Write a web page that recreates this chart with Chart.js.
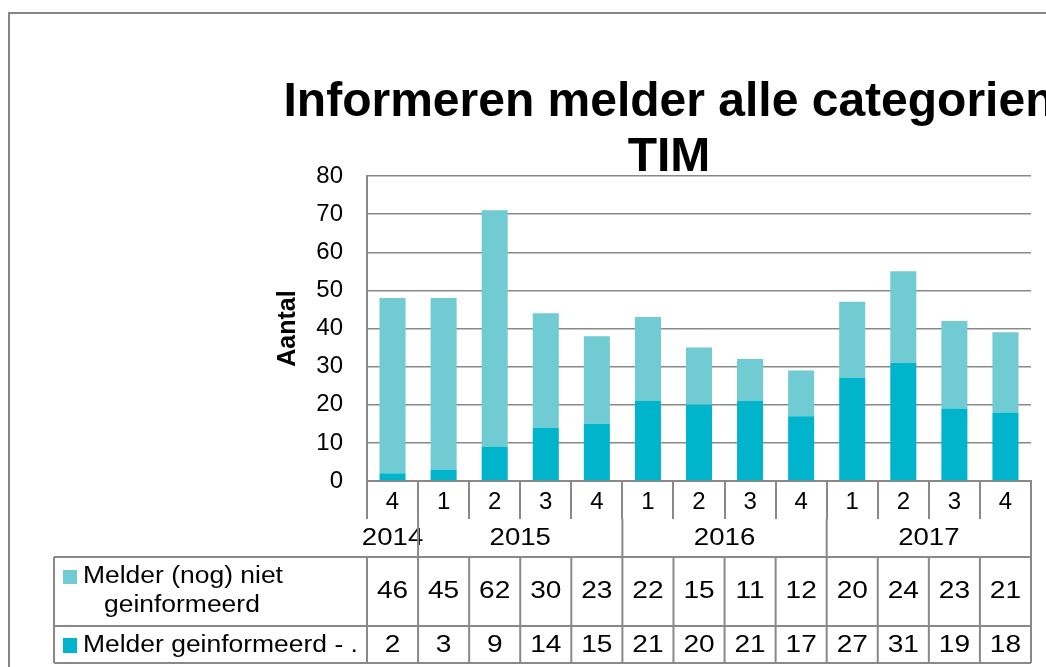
<!DOCTYPE html>
<html>
<head>
<meta charset="utf-8">
<script src="https://cdn.jsdelivr.net/npm/chart.js@4.4.1/dist/chart.umd.min.js"></script>
<style>
  html, body { margin: 0; padding: 0; background: #fff; }
  #chart { display: block; }
</style>
</head>
<body>
<canvas id="chart" width="1046" height="667"></canvas>
<script>
// data
const quarters = ['4', '1', '2', '3', '4', '1', '2', '3', '4', '1', '2', '3', '4'];
const years = ['2014', '2015', '2016', '2017'];
const quartersPerYear = [1, 4, 4, 4];
const nietGeinformeerd = [46, 45, 62, 30, 23, 22, 15, 11, 12, 20, 24, 23, 21];
const geinformeerd = [2, 3, 9, 14, 15, 21, 20, 21, 17, 27, 31, 19, 18];
const yTicks = { min: 0, max: 80, step: 10 };

const FONT = "'Liberation Sans', Arial, sans-serif";
const GRID = '#898989';
const LIGHT = '#70CBD3';
const DARK = '#00B4CC';

Chart.defaults.font.family = FONT;
Chart.defaults.color = '#000';

const ctx = document.getElementById('chart').getContext('2d');

// the source picture has slightly wide lettering, so squeeze/stretch horizontally
function wideText(c, text, x, y, align, sx) {
  c.save();
  c.translate(x, y);
  c.scale(sx, 1);
  c.textAlign = align;
  c.fillText(text, 0, 0);
  c.restore();
}

// outer frame, title and the data table under the x axis
const tablePlugin = {
  id: 'dataTable',
  beforeDraw(chart) {
    const c = chart.ctx;
    c.save();
    c.strokeStyle = '#868686';
    c.lineWidth = 2;
    c.beginPath();
    c.moveTo(9, 667);
    c.lineTo(9, 13);
    c.lineTo(1046, 13);
    c.stroke();
    c.restore();
  },
  afterDraw(chart) {
    const c = chart.ctx;
    const x = chart.scales.x;
    const n = quarters.length;
    const w = (x.right - x.left) / n;
    const edgeAt = i => (i < n ? x.getPixelForValue(i) - w / 2 : x.getPixelForValue(n - 1) + w / 2);

    const yearTop = x.bottom;
    const yearBottom = yearTop + 38;
    const row1Bottom = yearBottom + 69;
    const row2Bottom = row1Bottom + 37;
    const tableLeft = 54;

    c.save();
    // title
    c.fillStyle = '#000';
    c.font = `bold 48px ${FONT}`;
    c.textAlign = 'center';
    c.textBaseline = 'alphabetic';
    c.fillText('Informeren melder alle categorien', 669, 116);
    c.fillText('TIM', 669, 171);

    c.strokeStyle = GRID;
    c.lineWidth = 2;

    // year row
    c.font = `23px ${FONT}`;
    c.textBaseline = 'middle';
    let start = 0;
    years.forEach((yr, k) => {
      const end = start + quartersPerYear[k];
      const cx = (edgeAt(start) + edgeAt(end)) / 2;
      wideText(c, yr, cx, (yearTop + yearBottom) / 2 + 1, 'center', 1.2);
      if (start > 0) {
        c.beginPath();
        c.moveTo(edgeAt(start), yearTop);
        c.lineTo(edgeAt(start), yearBottom);
        c.stroke();
      }
      start = end;
    });
    c.beginPath();
    c.moveTo(edgeAt(n), yearTop);
    c.lineTo(edgeAt(n), yearBottom);
    c.stroke();

    // table grid
    c.beginPath();
    [yearBottom, row1Bottom, row2Bottom].forEach(y => {
      c.moveTo(tableLeft, y);
      c.lineTo(edgeAt(n), y);
    });
    c.moveTo(tableLeft, yearBottom);
    c.lineTo(tableLeft, row2Bottom);
    for (let i = 0; i <= n; i++) {
      c.moveTo(edgeAt(i), yearBottom);
      c.lineTo(edgeAt(i), row2Bottom);
    }
    c.stroke();

    // values
    const r1 = (yearBottom + row1Bottom) / 2;
    const r2 = (row1Bottom + row2Bottom) / 2;
    quarters.forEach((q, i) => {
      const cx = x.getPixelForValue(i);
      wideText(c, String(nietGeinformeerd[i]), cx, r1, 'center', 1.22);
      wideText(c, String(geinformeerd[i]), cx, r2 + 1, 'center', 1.22);
    });

    // legend keys and row labels
    c.fillStyle = LIGHT;
    c.fillRect(63, yearBottom + 13, 14, 14);
    c.fillStyle = DARK;
    c.fillRect(63, row1Bottom + 12, 14, 15);
    c.fillStyle = '#000';
    wideText(c, 'Melder (nog) niet', 83, yearBottom + 20, 'left', 1.15);
    wideText(c, 'geinformeerd', 104, yearBottom + 49, 'left', 1.15);
    wideText(c, 'Melder geinformeerd - .', 83, r2 + 1, 'left', 1.15);
    c.restore();
  }
};

const chart = new Chart(ctx, {
  type: 'bar',
  data: {
    labels: quarters,
    datasets: [{
      label: 'Melder geinformeerd - .',
      data: geinformeerd,
      backgroundColor: DARK,
      barPercentage: 0.51,
      categoryPercentage: 1
    }, {
      label: 'Melder (nog) niet geinformeerd',
      data: nietGeinformeerd,
      backgroundColor: LIGHT,
      barPercentage: 0.51,
      categoryPercentage: 1
    }]
  },
  options: {
    responsive: false,
    animation: false,
    layout: { padding: { left: 273, right: 15, top: 176, bottom: 148 } },
    plugins: {
      legend: { display: false },
      tooltip: { enabled: false }
    },
    scales: {
      x: {
        stacked: true,
        offset: true,
        grid: { offset: true, drawOnChartArea: false, drawTicks: true, tickLength: 38, color: GRID, lineWidth: 2 },
        border: { color: GRID, width: 2 },
        ticks: { font: { size: 24 }, padding: -31, color: '#000', maxRotation: 0, autoSkip: false },
        afterFit: s => { s.height = 38; }
      },
      y: {
        stacked: true,
        min: yTicks.min,
        max: yTicks.max,
        ticks: { stepSize: yTicks.step, font: { size: 24 }, padding: 24, color: '#000' },
        grid: { color: GRID, lineWidth: 1.5, drawTicks: false },
        border: { color: GRID, width: 2 },
        title: { display: true, text: 'Aantal', font: { size: 25, weight: 'bold' }, padding: 0, color: '#000' },
        afterFit: s => { s.width = 94; }
      }
    }
  },
  plugins: [tablePlugin]
});
</script>
</body>
</html>
